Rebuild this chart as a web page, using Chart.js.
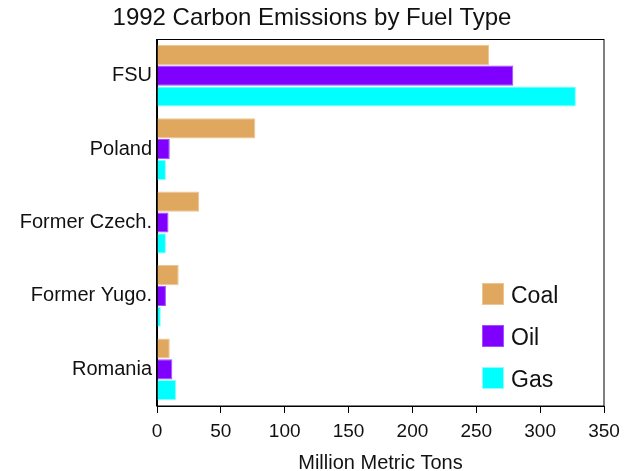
<!DOCTYPE html>
<html>
<head>
<meta charset="utf-8">
<title>1992 Carbon Emissions by Fuel Type</title>
<script src="https://cdn.jsdelivr.net/npm/chart.js@4"></script>
<style>
  body { margin: 0; background: #fff; }
  canvas { display: block; }
</style>
</head>
<body>
<canvas id="emissions-chart" width="630" height="471"></canvas>
<script>
const countries = ["FSU", "Poland", "Former Czech.", "Former Yugo.", "Romania"];
const coal = [260, 77, 33, 17, 10];
const oil = [279, 10, 9, 7, 12];
const gas = [328, 7, 7, 3, 15];
const xTicks = [0, 50, 100, 150, 200, 250, 300, 350];

const fontFamily = "'Liberation Sans', Arial, sans-serif";
const textColor = "#111";

// frame round the plot and the legend sitting inside it
const framePlugin = {
  id: "frame",
  afterDatasetsDraw(chart) {
    const { ctx, chartArea: a } = chart;
    ctx.save();
    ctx.strokeStyle = "#000";
    ctx.lineWidth = 1;
    ctx.strokeRect(Math.round(a.left) - 0.5, Math.round(a.top) + 0.5,
      Math.round(a.right - a.left) + 0.5, Math.round(a.bottom - a.top) - 0.5);

    ctx.font = "23px " + fontFamily;
    ctx.textBaseline = "middle";
    ctx.textAlign = "left";
    chart.data.datasets.forEach((ds, i) => {
      const x = a.right - 122;
      const y = a.bottom - 123 + i * 42;
      ctx.fillStyle = ds.backgroundColor;
      ctx.fillRect(x, y, 22, 22);
      ctx.strokeStyle = ds.borderColor;
      ctx.strokeRect(x + 0.5, y + 0.5, 21, 21);
      ctx.fillStyle = textColor;
      ctx.fillText(ds.label, x + 29, y + 14);
    });
    ctx.restore();
  }
};

new Chart(document.querySelector("#emissions-chart"), {
  type: "bar",
  data: {
    labels: countries,
    datasets: [
      { label: "Coal", data: coal, backgroundColor: "#E0A75E", borderColor: "#ECC591" },
      { label: "Oil", data: oil, backgroundColor: "#8000FF", borderColor: "#A54DFF" },
      { label: "Gas", data: gas, backgroundColor: "#00FFFF", borderColor: "#8CFFFF" },
    ],
  },
  options: {
    indexAxis: "y",
    responsive: false,
    animation: false,
    borderWidth: 1,
    barPercentage: 0.97,
    categoryPercentage: 0.85,
    layout: { padding: { left: 20, right: 26, top: 0, bottom: 0 } },
    scales: {
      x: {
        min: 0,
        max: 350,
        afterFit: (scale) => { scale.height = 65; },
        afterBuildTicks: (scale) => { scale.ticks = xTicks.map((v) => ({ value: v })); },
        grid: { drawOnChartArea: false, drawTicks: true, tickLength: 7, color: "#000" },
        border: { display: true, color: "#000" },
        ticks: { padding: 7, color: textColor, font: { family: fontFamily, size: 19 } },
        title: {
          display: true,
          text: "Million Metric Tons",
          color: textColor,
          padding: { top: 0, bottom: -4 },
          font: { family: fontFamily, size: 20 },
        },
      },
      y: {
        afterFit: (scale) => { scale.width = 137; },
        grid: { display: false, drawTicks: false },
        border: { display: true, color: "#000" },
        ticks: { padding: 5, color: textColor, font: { family: fontFamily, size: 20 } },
      },
    },
    plugins: {
      legend: { display: false },
      tooltip: { enabled: false },
      title: {
        display: true,
        text: "1992 Carbon Emissions by Fuel Type",
        color: textColor,
        padding: { top: 4, bottom: 6.2 },
        font: { family: fontFamily, size: 24, weight: "normal" },
      },
    },
  },
  plugins: [framePlugin],
});
</script>
</body>
</html>
